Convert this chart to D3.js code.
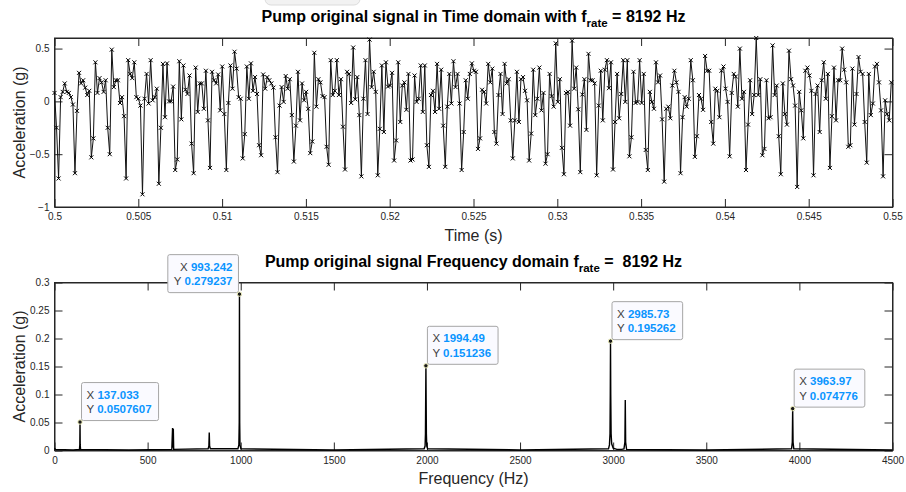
<!DOCTYPE html>
<html>
<head>
<meta charset="utf-8">
<script src="https://cdn.jsdelivr.net/npm/d3@7"></script>
<style>
  body { margin: 0; background: #fff; }
  svg { display: block; font-family: "Liberation Sans", Arial, Helvetica, sans-serif; }
  .axis text { fill: #262626; font-size: 10px; }
  .axis line, .axis path { stroke: #262626; }
  text { white-space: pre; }
</style>
</head>
<body>
<div id="chart"></div>
<script>
// sample rate of the recorded signal
const fs = 8192;
const tStart = 0.5;

// time signal (acceleration in g), one value per sample
const signal = [
  0.08, -0.25, -0.73, 0.04, 0.09, 0.17, 0.09, 0.08, 0.04, -0.03,
  -0.68, -0.09, 0.27, 0.17, 0.20, 0.13, 0.06, 0.10, -0.53, -0.35,
  0.37, 0.08, 0.22, 0.18, 0.09, 0.20, -0.25, -0.50, 0.49, 0.135,
  0.20, 0.20, -0.015, 0.04, -0.14, -0.73,
  0.39, 0.26, 0.22, 0.37, 0.04, 0.025, -0.04, -0.88, 0.025, 0.26,
  -0.02, 0.39, 0.01, 0.04, 0.12, -0.78, -0.25, 0.355, -0.15, 0.36,
  0.0, 0.0, 0.14, -0.65, -0.55, 0.38, -0.17, 0.34, 0.11, 0.07,
  0.245, -0.40, -0.68, 0.32, -0.10, 0.17, 0.17, -0.07, 0.29, -0.18,
  -0.63, 0.28, 0.20, 0.17, 0.255, -0.085, 0.33, -0.12, -0.65, -0.015,
  0.34, 0.12, 0.47, 0.31, 0.04, 0.025, -0.54, -0.31, 0.33, 0.025,
  0.36, 0.10, 0.23, 0.07, -0.415, -0.51, 0.255, 0.12, 0.23, 0.20,
  0.17, 0.13, -0.34, -0.67,
  -0.04, 0.135, -0.005, 0.24, 0.12, 0.21, -0.13, -0.57, -0.23, 0.28,
  -0.18, 0.17, 0.01, 0.09, -0.07, -0.49, -0.38, 0.46, -0.05, 0.21,
  0.18, 0.05, 0.04, -0.43, -0.60, 0.39, 0.06, 0.10, 0.39, 0.06,
  0.21, -0.24, -0.645, 0.28, 0.26, -0.015, 0.51, 0.02, 0.23, -0.13,
  -0.71, 0.025, 0.39, -0.12, 0.585, 0.135, 0.28, 0.09, -0.70, -0.26,
  0.34, -0.29, 0.37, 0.14, 0.15, 0.27, -0.56, -0.37, 0.37, -0.195,
  0.15, 0.18, -0.08, 0.26, -0.56, -0.55, 0.245, -0.005, 0.025, 0.34,
  -0.10, 0.34, -0.415, -0.62, 0.06, 0.10, -0.10, 0.355, -0.07, 0.30,
  -0.23, -0.62, -0.05, 0.26, -0.02, 0.38, 0.135, 0.26, -0.02, -0.65,
  -0.29, 0.20, 0.025, 0.26, 0.36, 0.29, 0.28, -0.45, -0.35, 0.11,
  0.09, -0.02,
  0.355, 0.18, 0.31, -0.29, -0.40, 0.06, 0.26, -0.12, 0.355, 0.17,
  0.21, -0.18, -0.54, -0.18, 0.28, -0.195, 0.21, 0.23, 0.10, 0.01,
  -0.56, -0.305, 0.30, -0.13, 0.025, 0.32, -0.085, 0.08, -0.59, -0.50,
  0.26, 0.05, -0.05, 0.55, -0.005, 0.21, -0.44, -0.69, 0.08, 0.09,
  -0.23, 0.575, 0.12, 0.32, -0.075, -0.67, 0.065, 0.21, -0.27, 0.45,
  0.20, 0.20, 0.17, -0.70, -0.04, 0.29, -0.18, 0.30, 0.39, 0.125,
  0.37, -0.645, -0.195, 0.26, -0.16, 0.07, 0.39, -0.005, 0.39, -0.52,
  -0.34, 0.28, -0.015, -0.005, 0.39, -0.015, 0.26, -0.46, -0.65, 0.09,
  -0.005, -0.07, 0.37, 0.18, 0.245, -0.17, -0.76, -0.07, -0.05, -0.16,
  0.15, 0.29, 0.18, 0.09, -0.68, -0.15, 0.04, -0.05, 0.025, 0.39,
  0.20, -0.525, -0.33,
  0.06, 0.025, -0.08, 0.43, 0.29, 0.29, -0.195, -0.40, 0.12, 0.10,
  -0.15, 0.29, 0.33, 0.12, -0.005, -0.52, 0.08, 0.26, 0.235, -0.05,
  0.50, 0.025, 0.09, -0.65, -0.22, 0.20, -0.12, 0.06, 0.60, 0.06,
  0.21, -0.51, -0.45, 0.20, -0.16, -0.15, 0.53, 0.06, 0.15, -0.33,
  -0.69, 0.17, -0.12, -0.22, 0.48, 0.21, 0.15, -0.04, -0.81, 0.09,
  -0.085, -0.35, 0.29, 0.32, 0.245, 0.10, -0.70, 0.07, 0.15, -0.29,
  0.20, 0.37, 0.025, 0.26, -0.63, -0.14, 0.32, -0.18, 0.20, 0.20,
  0.50, 0.30, 0.18, -0.43, -0.415, 0.31, -0.22, 0.07, 0.42, 0.28,
  0.26, -0.195, -0.58, 0.26, -0.13, -0.02, 0.33, 0.355, 0.18, -0.085,
  -0.71, 0.01, -0.12, -0.18, 0.18
];

// spectrum (frequency in Hz, amplitude in g)
const specFreq = [
  0, 5, 100, 134, 136, 137.033, 138, 140, 400, 630, 634, 636, 638, 640,
  825, 829, 831, 833, 837, 985, 990, 992, 993.242, 994.5, 996, 1001,
  1500, 1985, 1990, 1992, 1993.2, 1994.49, 1995.7, 1997, 1999, 2004,
  2500, 2975, 2980, 2983, 2984.5, 2985.73, 2987, 2989, 2992, 3000, 3020,
  3045, 3058, 3063, 3065, 3067, 3072, 3500, 3958, 3962, 3963.97, 3966, 3970, 4500
];
const specAmp = [
  0.004, 0.002, 0.001, 0.002, 0.01, 0.0507607, 0.01, 0.002, 0.001, 0.002, 0.04, 0.005, 0.039, 0.002,
  0.003, 0.008, 0.032, 0.008, 0.003, 0.003, 0.01, 0.05, 0.279237, 0.05, 0.01, 0.003,
  0.001, 0.003, 0.008, 0.03, 0.09, 0.151236, 0.09, 0.03, 0.008, 0.003,
  0.001, 0.003, 0.01, 0.03, 0.1, 0.195262, 0.1, 0.03, 0.012, 0.004, 0.002,
  0.002, 0.003, 0.015, 0.09, 0.015, 0.002, 0.001, 0.003, 0.015, 0.074776, 0.015, 0.003, 0.001
];

// data tips shown on the spectrum
const tipX = [137.033, 993.242, 1994.49, 2985.73, 3963.97];
const tipY = [0.0507607, 0.279237, 0.151236, 0.195262, 0.074776];
const tipXText = ["137.033", "993.242", "1994.49", "2985.73", "3963.97"];
const tipYText = ["0.0507607", "0.279237", "0.151236", "0.195262", "0.074776"];
const tipLeft = [false, true, false, false, false];

const timeTicks = [0.5, 0.505, 0.51, 0.515, 0.52, 0.525, 0.53, 0.535, 0.54, 0.545, 0.55];
const accTicks = [-1, -0.5, 0, 0.5];
const freqTicks = [0, 500, 1000, 1500, 2000, 2500, 3000, 3500, 4000, 4500];
const ampTicks = [0, 0.05, 0.1, 0.15, 0.2, 0.25, 0.3];

const W = 906, H = 492;
const svg = d3.select("#chart").append("svg")
    .attr("width", W)
    .attr("height", H);

// faint leftover shape at the very top of the figure
svg.append("rect")
    .attr("x", 265).attr("y", -12)
    .attr("width", 95).attr("height", 17)
    .attr("rx", 6)
    .attr("fill", "#f2f2f2")
    .attr("stroke", "#dcdcdc");

const left = 54.5, right = 892.5;

// ---------- top panel: time domain ----------
const x1 = d3.scaleLinear().domain([0.5, 0.55]).range([left, right]);
const y1 = d3.scaleLinear().domain([-1, 0.6]).range([207, 38]);

function drawBox(x, y, xt, yt, xfmt, yfmt) {
    let g = svg.append("g");
    let [r0, r1] = x.range();
    let [b, t] = y.range();

    g.append("g").attr("class", "axis")
        .attr("transform", "translate(0," + b + ")")
        .call(d3.axisBottom(x).tickValues(xt).tickFormat(xfmt).tickSizeInner(-8).tickSizeOuter(0).tickPadding(6));
    g.append("g").attr("class", "axis")
        .attr("transform", "translate(0," + t + ")")
        .call(d3.axisTop(x).tickValues(xt).tickFormat("").tickSizeInner(-8).tickSizeOuter(0));
    g.append("g").attr("class", "axis")
        .attr("transform", "translate(" + r0 + ",0)")
        .call(d3.axisLeft(y).tickValues(yt).tickFormat(yfmt).tickSizeInner(-8).tickSizeOuter(0).tickPadding(5));
    g.append("g").attr("class", "axis")
        .attr("transform", "translate(" + r1 + ",0)")
        .call(d3.axisRight(y).tickValues(yt).tickFormat("").tickSizeInner(-8).tickSizeOuter(0));

    g.selectAll(".axis .tick text").attr("font-size", 10.5);
    g.append("rect")
        .attr("x", r0).attr("y", t)
        .attr("width", r1 - r0).attr("height", b - t)
        .attr("fill", "none")
        .attr("stroke", "#262626");
    return g;
}

function title(y, before, after) {
    let tx = svg.append("text")
        .attr("x", (left + right) / 2)
        .attr("y", y)
        .attr("text-anchor", "middle")
        .attr("font-size", 16)
        .attr("font-weight", "bold")
        .attr("fill", "#000");
    tx.append("tspan").text(before);
    tx.append("tspan").attr("font-size", 11.5).attr("dy", 5).text("rate");
    tx.append("tspan").attr("dy", -5).text(after);
}

function axisLabels(xLabel, xy, cy) {
    svg.append("text")
        .attr("x", (left + right) / 2)
        .attr("y", xy)
        .attr("text-anchor", "middle")
        .attr("font-size", 16)
        .attr("fill", "#262626")
        .text(xLabel);
    svg.append("text")
        .attr("transform", "translate(25," + cy + ") rotate(-90)")
        .attr("text-anchor", "middle")
        .attr("font-size", 16)
        .attr("fill", "#262626")
        .text("Acceleration (g)");
}

let fmtTime = d => d === 0.5 ? "0.5" : d === 0.55 ? "0.55" : d3.format(".3f")(d).replace(/0+$/, "");
let fmtAcc = d => d3.format("")(d);
drawBox(x1, y1, timeTicks, accTicks, fmtTime, fmtAcc);

const timeData = signal.map((v, i) => ({ t: tStart + i / fs, v: v }));

const line1 = d3.line()
    .x(d => x1(d.t))
    .y(d => y1(d.v));

svg.append("path")
    .datum(timeData)
    .attr("fill", "none")
    .attr("stroke", "#111")
    .attr("stroke-width", 1)
    .attr("d", line1);

svg.append("g").selectAll("path")
    .data(timeData)
    .enter()
    .append("path")
    .attr("transform", d => "translate(" + x1(d.t) + "," + y1(d.v) + ")")
    .attr("d", "M-2,-2L2,2M-2,2L2,-2")
    .attr("stroke", "#000")
    .attr("stroke-width", 1);

title(22, "Pump original signal in Time domain with f", " = 8192 Hz");
axisLabels("Time (s)", 241, (38 + 207) / 2);

// ---------- bottom panel: frequency domain ----------
const x2 = d3.scaleLinear().domain([0, 4500]).range([left, right]);
const y2 = d3.scaleLinear().domain([0, 0.3]).range([450.5, 282.5]);

drawBox(x2, y2, freqTicks, ampTicks, d => d, d => d3.format("")(d));

const specData = specFreq.map((f, i) => ({ f: f, a: specAmp[i] }));

svg.append("path")
    .datum(specData)
    .attr("fill", "none")
    .attr("stroke", "#000")
    .attr("stroke-width", 1.4)
    .attr("d", d3.line().x(d => x2(d.f)).y(d => y2(d.a)));

// data tips
tipX.forEach((f, i) => {
    let px = x2(f), py = y2(tipY[i]);
    let g = svg.append("g");

    let t1 = g.append("text").attr("font-size", 11.5);
    t1.append("tspan").attr("fill", "#404040").text("X ");
    t1.append("tspan").attr("fill", "#0a95ff").attr("font-weight", "bold").text(tipXText[i]);
    let t2 = g.append("text").attr("font-size", 11.5);
    t2.append("tspan").attr("fill", "#404040").text("Y ");
    t2.append("tspan").attr("fill", "#0a95ff").attr("font-weight", "bold").text(tipYText[i]);

    let w1 = t1.node().getComputedTextLength();
    let w2 = t2.node().getComputedTextLength();
    let bw = Math.max(w1, w2) + 12, bh = 38;
    let bx = tipLeft[i] ? px - 1 - bw : px + 1.5;
    let by = py - 1.5 - bh;

    g.insert("rect", "text")
        .attr("x", bx).attr("y", by)
        .attr("width", bw).attr("height", bh)
        .attr("rx", 2)
        .attr("fill", "#fafaff")
        .attr("stroke", "#a6a6a6");

    if (tipLeft[i]) {
        t1.attr("text-anchor", "end").attr("x", bx + bw - 6).attr("y", by + 16);
        t2.attr("text-anchor", "end").attr("x", bx + bw - 6).attr("y", by + 30.5);
    } else {
        t1.attr("x", bx + 5).attr("y", by + 16);
        t2.attr("x", bx + 5).attr("y", by + 30.5);
    }

    g.append("circle")
        .attr("cx", px).attr("cy", py)
        .attr("r", 2.2)
        .attr("fill", "#1a1a1a")
        .attr("stroke", "#f3f3c0")
        .attr("stroke-width", 1);
});

title(267, "Pump original signal Frequency domain f", " =  8192 Hz");
axisLabels("Frequency (Hz)", 484, (282.5 + 450.5) / 2);
</script>
</body>
</html>
